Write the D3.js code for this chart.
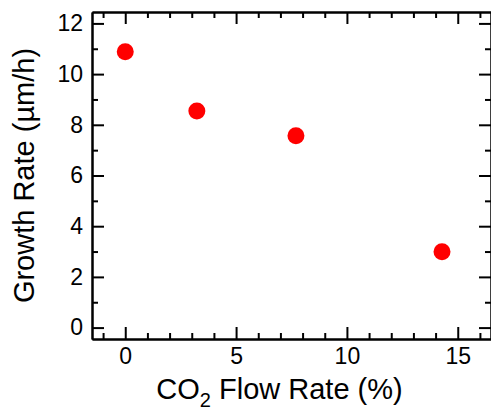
<!DOCTYPE html>
<html>
<head>
<meta charset="utf-8">
<script src="https://cdn.jsdelivr.net/npm/d3@7"></script>
<style>
  html, body { margin: 0; padding: 0; background: #fff; }
  svg { display: block; }
  text { font-family: "Liberation Sans", Arial, Helvetica, sans-serif; fill: #000; }
</style>
</head>
<body>
<script>
// CO2 flow rate (%) and the measured growth rate (µm/h)
const co2Flow = [0, 3.23, 7.7, 14.29];
const growthRate = [10.88, 8.54, 7.57, 2.99];

const xMajorTicks = [0, 5, 10, 15];
const xMinorTicks = [-1, 1, 2, 3, 4, 6, 7, 8, 9, 11, 12, 13, 14, 16];
const yMajorTicks = [0, 2, 4, 6, 8, 10, 12];
const yMinorTicks = [1, 3, 5, 7, 9, 11];

const W = 491, H = 413;
const plotLeft = 92, plotRight = 491, plotTop = 12, plotBottom = 339;

const svg = d3.select("body").append("svg")
  .attr("width", W).attr("height", H);

const x = d3.scaleLinear().domain([-1.5, 16.5]).range([plotLeft, plotRight]);
const y = d3.scaleLinear().domain([-0.45, 12.45]).range([plotBottom, plotTop]);

const stroke = 2;

function styleAxis(g) {
  g.selectAll("path.domain").attr("stroke", "#000").attr("stroke-width", stroke);
  g.selectAll(".tick line").attr("stroke", "#000").attr("stroke-width", stroke);
}

// bottom axis: labelled major ticks, inward
const gBottom = svg.append("g").attr("transform", `translate(0,${plotBottom})`)
  .call(d3.axisBottom(x).tickValues(xMajorTicks).tickSizeInner(-12).tickSizeOuter(0)
    .tickPadding(9).tickFormat(d3.format("d")));
gBottom.selectAll(".tick text").attr("font-size", 23).attr("font-family", null);
styleAxis(gBottom);
svg.append("g").attr("transform", `translate(0,${plotBottom})`)
  .call(d3.axisBottom(x).tickValues(xMinorTicks).tickSizeInner(-6).tickSizeOuter(0).tickFormat(""))
  .call(styleAxis);

// top axis: ticks only
svg.append("g").attr("transform", `translate(0,${plotTop})`)
  .call(d3.axisTop(x).tickValues(xMajorTicks).tickSizeInner(-12).tickSizeOuter(0).tickFormat(""))
  .call(styleAxis);
svg.append("g").attr("transform", `translate(0,${plotTop})`)
  .call(d3.axisTop(x).tickValues(xMinorTicks).tickSizeInner(-6).tickSizeOuter(0).tickFormat(""))
  .call(styleAxis);

// left axis: labelled major ticks, inward
const gLeft = svg.append("g").attr("transform", `translate(${plotLeft},0)`)
  .call(d3.axisLeft(y).tickValues(yMajorTicks).tickSizeInner(-12).tickSizeOuter(0)
    .tickPadding(9).tickFormat(d3.format("d")));
gLeft.selectAll(".tick text").attr("font-size", 23).attr("font-family", null);
styleAxis(gLeft);
svg.append("g").attr("transform", `translate(${plotLeft},0)`)
  .call(d3.axisLeft(y).tickValues(yMinorTicks).tickSizeInner(-6).tickSizeOuter(0).tickFormat(""))
  .call(styleAxis);

// right axis: ticks only
svg.append("g").attr("transform", `translate(${plotRight},0)`)
  .call(d3.axisRight(y).tickValues(yMajorTicks).tickSizeInner(-12).tickSizeOuter(0).tickFormat(""))
  .call(styleAxis);
svg.append("g").attr("transform", `translate(${plotRight},0)`)
  .call(d3.axisRight(y).tickValues(yMinorTicks).tickSizeInner(-6).tickSizeOuter(0).tickFormat(""))
  .call(styleAxis);

// data points
svg.append("g").selectAll("circle")
  .data(co2Flow.map((v, i) => [v, growthRate[i]]))
  .join("circle")
  .attr("cx", d => x(d[0]))
  .attr("cy", d => y(d[1]))
  .attr("r", 8.5)
  .attr("fill", "#ff0000");

// axis titles
const xTitle = svg.append("text")
  .attr("x", 279.5).attr("y", 399)
  .attr("text-anchor", "middle")
  .attr("font-size", 29);
xTitle.append("tspan").text("CO");
xTitle.append("tspan").text("2").attr("font-size", 20).attr("dy", 8);
xTitle.append("tspan").text(" Flow Rate (%)").attr("dy", -8);

svg.append("text")
  .attr("transform", `translate(34,175.5) rotate(-90)`)
  .attr("text-anchor", "middle")
  .attr("font-size", 29)
  .text("Growth Rate (µm/h)");
</script>
</body>
</html>
